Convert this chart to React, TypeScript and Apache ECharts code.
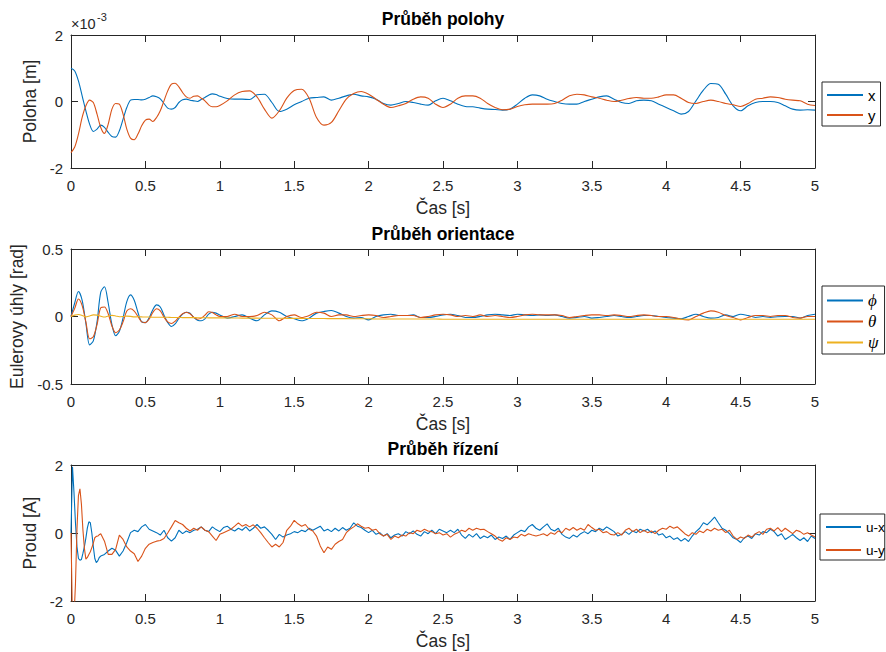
import React, { useEffect, useRef } from "react";
import * as echarts from "echarts";

// ---------- time grids ----------
// position / orientation: 0..1 s every 0.025 s, then 1.05..5 s every 0.05 s
const stateTime: number[] = [];
for (let i = 0; i <= 40; i++) stateTime.push(+(i * 0.025).toFixed(3));
for (let i = 1; i <= 80; i++) stateTime.push(+(1 + i * 0.05).toFixed(3));
// control: 0..0.2 s every 0.01 s, then 0.225..5 s every 0.025 s
const controlTime: number[] = [];
for (let i = 0; i <= 20; i++) controlTime.push(+(i * 0.01).toFixed(3));
for (let i = 0; i <= 191; i++) controlTime.push(+(0.225 + i * 0.025).toFixed(3));

// ---------- Průběh polohy (values in 1e-3 m) ----------
const posX = [
  1.0, 0.92, 0.62, 0.17, -0.28, -0.68, -0.9, -0.83, -0.71, -0.78,
  -0.93, -1.05, -1.07, -0.88, -0.53, -0.18, 0.04, 0.06, 0.06, 0.05,
  0.07, 0.12, 0.17, 0.14, 0.08, -0.06, -0.2, -0.23, -0.18, -0.03,
  0.05, 0.07, 0.04, 0.02, 0, 0.06, 0.12, 0.19, 0.23, 0.21, 0.16,
  0.09, 0.07, 0.07, 0.06, 0.2, 0.22, -0.03, -0.3, -0.23, -0.1,
  0, 0.1, 0.12, 0.14, 0.04, 0.1, 0.17, 0.22, 0.17, 0.14,
  0.07, -0.06, -0.11, -0.06, 0, -0.03, -0.08, -0.11, 0.02, 0.1,
  0.02, -0.08, -0.15, -0.16, -0.2, -0.23, -0.24, -0.26, -0.23, -0.08,
  0.1, 0.2, 0.17, 0.07, 0, -0.06, -0.08, -0.08, 0, 0.07,
  0.14, 0.17, 0.07, -0.03, -0.06, 0.02, 0.04, 0.02, -0.08, -0.18,
  -0.28, -0.38, -0.3, 0.02, 0.34, 0.54, 0.52, 0.22, -0.13, -0.28,
  -0.13, -0.03, 0, 0, -0.03, -0.13, -0.23, -0.26, -0.25, -0.26,
];
const posY = [
  -1.54, -1.37, -0.98, -0.48, -0.13, 0.04, -0.03, -0.38, -0.78, -0.96,
  -0.68, -0.23, -0.06, -0.08, -0.38, -0.83, -1.1, -1.15, -0.98, -0.73,
  -0.56, -0.53, -0.6, -0.48, -0.28, 0.02, 0.32, 0.52, 0.55, 0.44,
  0.27, 0.14, 0.1, 0.16, 0.17, 0.1, 0.02, -0.1, -0.16, -0.16, -0.12,
  0.02, 0.2, 0.3, 0.32, 0.14, -0.23, -0.5, -0.28, 0.1, 0.33,
  0.37, 0.1, -0.48, -0.71, -0.63, -0.28, 0.07, 0.24, 0.3, 0.22,
  0.07, -0.08, -0.18, -0.13, -0.06, 0.07, 0.14, 0.1, -0.08, -0.18,
  -0.08, 0.1, 0.17, 0.17, 0.1, -0.06, -0.18, -0.25, -0.23, -0.15,
  -0.1, -0.08, -0.08, -0.08, -0.06, 0.04, 0.17, 0.22, 0.2, 0.14,
  0.1, 0.04, 0, 0.04, 0.09, 0.12, 0.1, 0.1, 0.14, 0.2,
  0.2, 0.1, -0.03, -0.06, 0, 0.04, 0, -0.06, -0.1, -0.15,
  -0.06, 0.07, 0.1, 0.14, 0.12, 0.07, 0.04, 0.02, -0.08, -0.12,
];

// ---------- Průběh orientace (rad) ----------
const phi = [
  0, 0.1, 0.185, 0.12, -0.05, -0.21, -0.18, -0.04, 0.18, 0.22,
  0.1, -0.06, -0.143, -0.11, -0.01, 0.11, 0.16, 0.12, 0.03, -0.04,
  -0.045, -0.01, 0.05, 0.086, 0.07, 0.01, -0.045, -0.074, -0.055, -0.015,
  0.017, 0.032, 0.025, -0.007, -0.027, -0.032, -0.017, 0.017, 0.032, 0.025, 0.012,
  -0.012, 0, 0.012, -0.012, -0.032, 0.012, 0.042, 0.032, 0, -0.017,
  -0.032, -0.012, 0.025, 0.037, 0.044, 0.025, 0, -0.012, -0.007, -0.025,
  0, 0.012, 0.017, 0.007, 0.007, 0.012, -0.007, -0.007, 0, 0.012,
  0.017, 0.007, -0.007, -0.007, 0, 0.012, 0.017, 0.012, 0.007, 0.017,
  0.012, 0.007, 0.012, 0.007, 0.012, 0, -0.012, -0.007, 0, -0.012,
  -0.007, 0, 0.007, 0, -0.007, 0, 0.007, 0.007, 0, -0.007,
  -0.012, -0.017, 0, 0.017, 0, -0.012, -0.007, 0.012, 0, 0.017,
  0.007, -0.007, 0, -0.007, -0.002, 0, 0, -0.012, 0.007, 0.017,
];
const theta = [
  0, 0.06, 0.13, 0.08, -0.04, -0.165, -0.15, -0.06, 0.065, 0.07,
  0.02, -0.07, -0.12, -0.1, -0.04, 0.04, 0.057, 0.04, 0, -0.04,
  -0.045, -0.02, 0.03, 0.057, 0.042, -0.005, -0.04, -0.052, -0.035, -0.005,
  0.02, 0.032, 0.02, -0.005, -0.02, -0.012, 0.01, 0.035, 0.03, 0.012, 0,
  0, 0.017, 0, 0, 0.007, 0.032, 0.012, -0.032, 0, 0.012,
  -0.007, 0.007, 0.032, 0.025, 0, 0.012, 0.012, 0, 0.007, 0.012,
  0.007, -0.007, 0, 0.007, 0.007, 0.007, -0.007, 0, 0.012, 0.017,
  0.012, 0, 0.007, 0, 0.012, 0, 0.007, 0, -0.007, 0,
  0.012, 0.017, 0.012, 0.012, 0.012, 0.007, -0.007, 0, 0.007, 0.012,
  0.012, 0.007, 0.012, 0.007, 0, 0.007, 0.012, 0.007, 0, 0,
  -0.007, -0.02, -0.025, 0, 0.025, 0.042, 0.032, 0.007, -0.007, -0.025,
  -0.007, 0.007, 0.007, 0, 0.007, 0.007, -0.007, -0.012, 0, 0,
];
const psi = [
  0, 0.01, 0.015, 0.008, -0.003, 0.004, 0.012, 0.01, 0.002, -0.004,
  0.004, 0.008, 0.004, -0.002, 0, 0.003, 0.001, -0.003, -0.002, -0.003,
  -0.004, -0.004, -0.005, -0.005, -0.006, -0.006, -0.006, -0.007, -0.007, -0.007,
  -0.008, -0.008, -0.008, -0.008, -0.009, -0.009, -0.009, -0.01, -0.01, -0.01, -0.01,
  -0.011, -0.011, -0.012, -0.012, -0.012, -0.013, -0.013, -0.013, -0.014, -0.014,
  -0.014, -0.015, -0.015, -0.015, -0.016, -0.016, -0.016, -0.017, -0.017, -0.017,
  -0.018, -0.018, -0.018, -0.018, -0.019, -0.019, -0.019, -0.019, -0.019, -0.02,
  -0.02, -0.02, -0.02, -0.02, -0.02, -0.02, -0.02, -0.02, -0.02, -0.02,
  -0.02, -0.02, -0.02, -0.02, -0.02, -0.02, -0.02, -0.02, -0.02, -0.02,
  -0.02, -0.02, -0.02, -0.02, -0.02, -0.02, -0.02, -0.02, -0.02, -0.02,
  -0.02, -0.02, -0.02, -0.02, -0.02, -0.02, -0.02, -0.02, -0.02, -0.02,
  -0.02, -0.02, -0.02, -0.02, -0.02, -0.02, -0.02, -0.02, -0.02, -0.02,
];

// ---------- Průběh řízení (A) ----------
const uX = [
  0, 1.95, 1.2, 0.3, -0.4, -0.75, -0.8, -0.78, -0.6, -0.4,
  -0.15, 0.15, 0.33, 0.3, 0, -0.4, -0.75, -0.87, -0.82, -0.72, -0.68,
  -0.63, -0.53, -0.45, -0.51, -0.68, -0.53, -0.28, 0.01, 0.08, 0.04,
  0.18, 0.25, 0.11, 0.06, 0.01, -0.06, 0.08, -0.14, -0.24, -0.14,
  0.08, -0.02, 0.06, 0.01, 0.08, 0.11, 0.18, 0.08, 0.04, 0.18,
  0.1, 0.04, 0.16, 0.2, 0.11, 0.06, 0.14, 0.08, 0.18, 0.06,
  0.14, 0.25, 0.14, 0.18, 0.08, -0.04, -0.19, -0.04, -0.12, -0.06,
  -0.02, 0.04, 0.01, 0.08, 0.04, 0.14, 0.08, 0.14, 0.2, 0.06,
  0.11, 0.04, 0.14, 0.06, 0.16, 0.08, 0.14, 0.3, 0.2, 0.16,
  0.08, 0.01, 0.08, -0.04, 0.01, -0.09, -0.02, -0.14, -0.06, -0.02,
  -0.09, 0.04, -0.02, 0.06, -0.04, -0.09, 0.04, -0.02, 0.08, -0.02,
  0.11, 0.06, 0.01, 0.08, 0.01, 0.11, -0.06, -0.16, -0.04, -0.12,
  -0.02, -0.16, -0.09, -0.14, -0.06, -0.19, -0.12, -0.16, -0.09, -0.19,
  -0.06, 0.01, 0.08, 0.04, 0.18, 0.25, 0.14, 0.08, 0.18, 0.27,
  0.11, 0.06, 0.14, -0.04, -0.12, -0.16, -0.06, -0.12, -0.02, 0.04,
  -0.02, 0.08, 0.04, 0.14, 0.08, 0.18, 0.11, 0.04, -0.09, -0.04,
  0.04, -0.04, 0.06, 0.01, 0.11, 0.06, 0.11, 0.01, 0.06, -0.06,
  -0.02, -0.14, -0.09, -0.19, -0.14, -0.24, -0.16, -0.25, -0.09, 0.04,
  0.14, 0.3, 0.24, 0.35, 0.47, 0.3, 0.14, 0.08, -0.02, -0.14,
  -0.19, -0.28, -0.14, -0.09, -0.16, -0.02, -0.06, 0.04, 0.01, 0.11,
  0.04, -0.09, -0.02, -0.19, -0.12, -0.04, -0.14, -0.22, -0.14, -0.25,
  -0.09, -0.16,
];
const uY = [
  0, -2.6, -2.5, -1.5, 0.1, 1.1, 1.3, 0.85, 0.1, -0.45,
  -0.77, -0.72, -0.63, -0.55, -0.43, -0.3, -0.14, -0.1, -0.09, -0.05, -0.02,
  -0.24, -0.63, -0.63, -0.48, -0.06, -0.19, -0.41, -0.53, -0.61, -0.84,
  -0.68, -0.45, -0.33, -0.28, -0.24, -0.22, -0.16, 0, 0.18, 0.37,
  0.3, 0.25, 0.14, 0.06, 0.14, 0.08, 0.18, 0.08, 0.04, -0.09,
  -0.22, -0.04, 0.01, 0.06, 0.11, 0.2, 0.3, 0.2, 0.25, 0.18,
  0.24, 0.14, 0.01, -0.14, -0.28, -0.41, -0.33, -0.41, -0.28, 0.08,
  0.2, 0.37, 0.27, 0.2, 0.25, 0.11, 0.06, -0.09, -0.38, -0.58,
  -0.41, -0.48, -0.33, -0.25, -0.19, 0.01, 0.11, 0.18, 0.27, 0.2,
  0.14, 0.16, 0.08, 0.11, -0.02, -0.09, -0.04, -0.19, -0.09, -0.14,
  -0.06, -0.09, 0.01, -0.02, 0.08, 0.04, 0.11, 0.06, 0.04, -0.02,
  0.01, -0.06, -0.02, -0.12, -0.04, 0.01, 0.08, 0.04, 0.14, 0.08,
  0.14, 0.1, 0.11, 0.04, -0.02, -0.09, -0.19, -0.24, -0.14, -0.19,
  -0.12, -0.14, -0.04, -0.09, -0.02, -0.06, -0.09, -0.06, -0.02, -0.08,
  0.01, -0.04, 0.06, 0.01, 0.14, 0.08, 0.16, 0.08, 0.14, 0.08,
  0.25, 0.16, 0.08, 0.11, 0.01, 0.04, -0.04, -0.06, 0.01, -0.06,
  0.08, 0.14, 0.04, 0.11, 0.01, 0.08, 0.01, 0.06, -0.02, 0.08,
  0.14, 0.11, 0.2, 0.14, 0.18, 0.08, -0.02, -0.09, 0.01, -0.04,
  0.06, 0.01, 0.11, 0.06, 0.14, 0.08, 0.11, 0.01, 0.08, -0.09,
  -0.19, -0.12, -0.16, -0.06, -0.12, -0.02, 0.04, -0.04, 0.11, 0.14,
  0.06, 0.16, 0.04, 0.14, 0.06, -0.02, 0.08, 0.04, -0.04, 0.01,
  -0.06, -0.12,
];

// ---------- labels ----------
const titles = ["Průběh polohy", "Průběh orientace", "Průběh řízení"];
const yNames = ["Poloha [m]", "Eulerovy úhly [rad]", "Proud [A]"];
const xName = "Čas [s]";
const yRanges = [
  [-2, 2, 2],
  [-0.5, 0.5, 0.5],
  [-2, 2, 2],
];

const FONT = '"Liberation Sans", Arial, Helvetica, sans-serif';
const AX = "#262626";
const C1 = "#0072BD";
const C2 = "#D95319";
const C3 = "#EDB120";

const grids = [
  { left: 71, top: 35, width: 744, height: 133 },
  { left: 71, top: 249, width: 744, height: 135 },
  { left: 71, top: 465, width: 744, height: 136 },
];

function pairs(t: number[], v: number[]) {
  return v.map((val, i) => [t[i], val]);
}

export default function App() {
  const ref = useRef<HTMLDivElement>(null);
  useEffect(() => {
    if (!ref.current) return;
    const chart = echarts.init(ref.current, null, { renderer: "svg" });

    const xAxis: any[] = [];
    const yAxis: any[] = [];
    grids.forEach((_, gi) => {
      const common = {
        type: "value",
        gridIndex: gi,
        min: 0,
        max: 5,
        interval: 0.5,
        axisLine: { show: true, onZero: false, lineStyle: { color: AX, width: 1 } },
        axisTick: { show: true, inside: true, length: 7, lineStyle: { color: AX, width: 1 } },
        splitLine: { show: false },
      };
      xAxis.push({
        ...common,
        position: "bottom",
        axisLabel: { color: AX, fontSize: 15, fontFamily: FONT, margin: 10 },
        name: xName,
        nameLocation: "middle",
        nameGap: 31,
        nameTextStyle: { color: AX, fontSize: 17.5, fontFamily: FONT },
      });
      xAxis.push({ ...common, position: "top", axisLabel: { show: false } });
      const [mn, mx, iv] = yRanges[gi];
      const yc = {
        type: "value",
        gridIndex: gi,
        min: mn,
        max: mx,
        interval: iv,
        axisLine: { show: true, onZero: false, lineStyle: { color: AX, width: 1 } },
        axisTick: { show: true, inside: true, length: 7, lineStyle: { color: AX, width: 1 } },
        splitLine: { show: false },
      };
      yAxis.push({
        ...yc,
        position: "left",
        axisLabel: { color: AX, fontSize: 15, fontFamily: FONT, margin: 8 },
        name: yNames[gi],
        nameLocation: "middle",
        nameGap: gi === 1 ? 41 : 26,
        nameTextStyle: { color: AX, fontSize: 17.5, fontFamily: FONT },
      });
      yAxis.push({ ...yc, position: "right", axisLabel: { show: false } });
    });

    const line = (name: string, color: string, gi: number, data: number[][], smooth: boolean) => ({
      name,
      type: "line",
      xAxisIndex: gi * 2,
      yAxisIndex: gi * 2,
      data,
      showSymbol: false,
      symbol: "none",
      smooth: smooth ? 0.3 : false,
      clip: true,
      lineStyle: { color, width: 1.1 },
      itemStyle: { color },
    });

    const legendBase = {
      orient: "vertical",
      icon: "rect",
      itemWidth: 36,
      itemHeight: 2,
      itemGap: 4,
      borderColor: AX,
      borderWidth: 1,
      borderRadius: 0,
      backgroundColor: "#fff",
      selectedMode: false,
    };

    chart.setOption({
      animation: false,
      backgroundColor: "#fff",
      title: titles.map((t, i) => ({
        text: t,
        left: "center",
        top: [10, 225, 440][i],
        padding: 0,
        textStyle: { fontSize: 17.5, fontWeight: "bold", color: "#000", fontFamily: FONT },
      })),
      grid: grids,
      xAxis,
      yAxis,
      legend: [
        {
          ...legendBase,
          data: ["x", "y"],
          left: 822,
          top: 82,
          padding: [5, 5, 3, 5],
          textStyle: { fontSize: 15, fontFamily: FONT, color: "#000", lineHeight: 16 },
        },
        {
          ...legendBase,
          data: ["ϕ", "θ", "ψ"],
          left: 822,
          top: 286,
          padding: [6, 6, 3, 5],
          textStyle: {
            fontSize: 17,
            fontFamily: '"Liberation Serif", "DejaVu Serif", serif',
            fontStyle: "italic",
            color: "#000",
            lineHeight: 16,
          },
        },
        {
          ...legendBase,
          data: ["u-x", "u-y"],
          left: 820,
          top: 514,
          itemGap: 7,
          itemWidth: 35,
          padding: [5, 0, 2, 6],
          textStyle: { fontSize: 13.5, fontFamily: FONT, color: "#000", lineHeight: 16 },
        },
      ],
      graphic: [
        {
          type: "text",
          left: 71,
          top: 16,
          style: { text: "×10", fontSize: 14.5, fontFamily: FONT, fill: AX },
        },
        {
          type: "text",
          left: 97,
          top: 11,
          style: { text: "-3", fontSize: 11, fontFamily: FONT, fill: AX },
        },
      ],
      series: [
        line("x", C1, 0, pairs(stateTime, posX), true),
        line("y", C2, 0, pairs(stateTime, posY), true),
        line("ϕ", C1, 1, pairs(stateTime, phi), true),
        line("θ", C2, 1, pairs(stateTime, theta), true),
        line("ψ", C3, 1, pairs(stateTime, psi), true),
        line("u-x", C1, 2, pairs(controlTime, uX), false),
        line("u-y", C2, 2, pairs(controlTime, uY), false),
      ],
    });
    return () => chart.dispose();
  }, []);

  return (
    <div
      ref={ref}
      style={{ position: "fixed", left: 0, top: 0, width: 886, height: 652, background: "#fff" }}
    />
  );
}
